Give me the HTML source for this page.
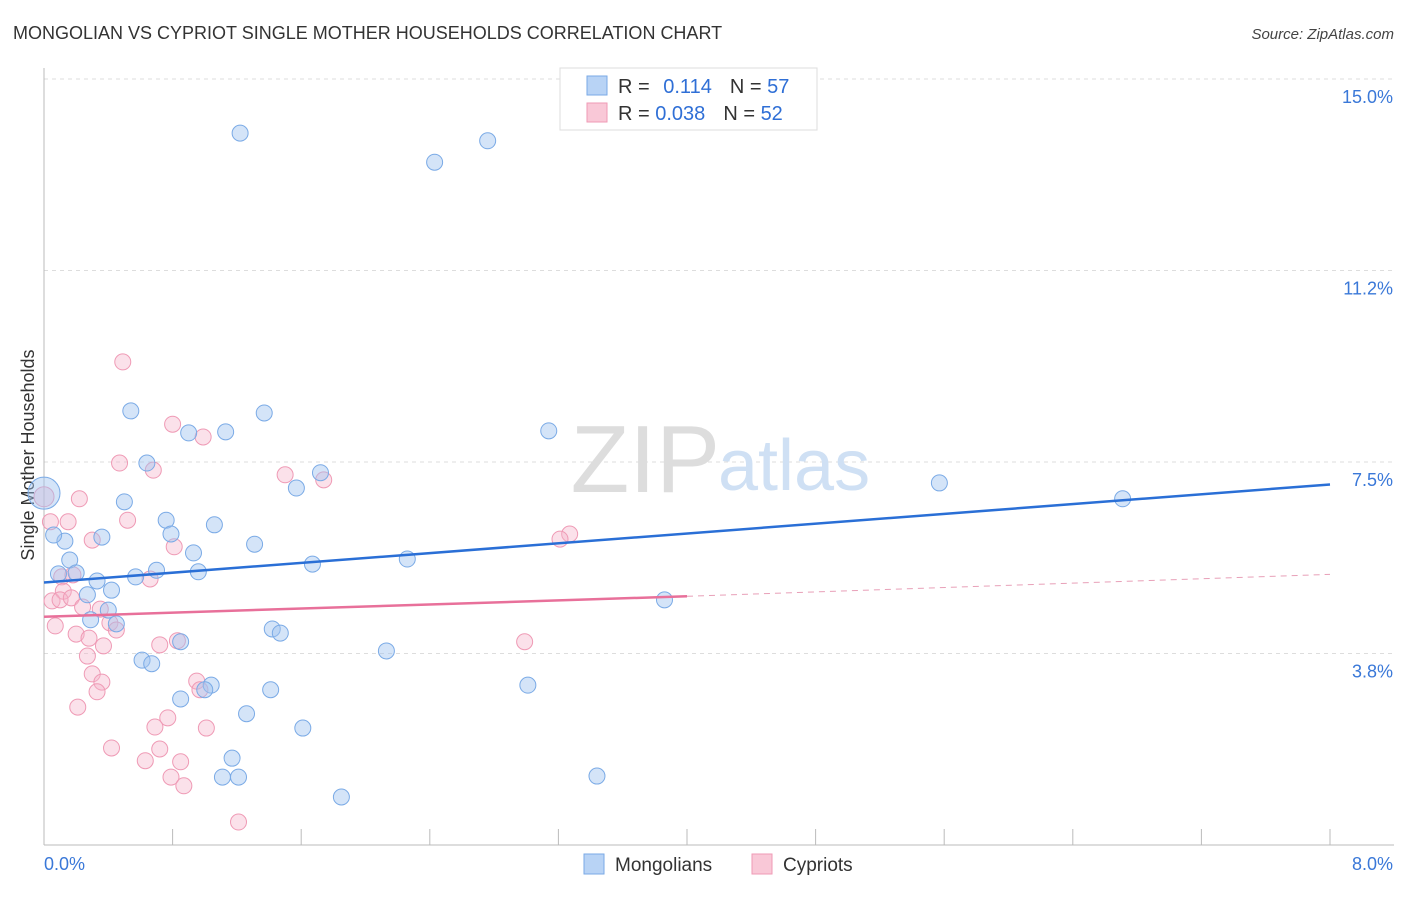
<!DOCTYPE html>
<html><head><meta charset="utf-8"><style>
body{margin:0;background:#fff;font-family:"Liberation Sans",sans-serif}
svg text{font-family:"Liberation Sans",sans-serif}
</style></head><body>
<svg id="chart" width="1406" height="892" xmlns="http://www.w3.org/2000/svg">
<text x="13" y="39" font-size="18" fill="#333">MONGOLIAN VS CYPRIOT SINGLE MOTHER HOUSEHOLDS CORRELATION CHART</text>
<text x="1394" y="39" font-size="15" fill="#444" font-style="italic" text-anchor="end">Source: ZipAtlas.com</text>
<g id="grid"></g>
<g id="axes"></g>
<text x="720" y="492" font-size="96" fill="#ddd" font-family="Liberation Serif" text-anchor="end">ZIP</text>
<text x="718" y="490" font-size="72" fill="#cfe0f4">atlas</text>
<text transform="translate(34,455) rotate(-90)" font-size="18" fill="#333" text-anchor="middle">Single Mother Households</text>
<g id="marks"></g>
<g>
<rect x="560" y="68" width="257" height="62" fill="#fff" stroke="#ddd"/>
<rect x="587" y="76" width="20" height="19" fill="#b8d3f5" stroke="#7aaae6"/>
<rect x="587" y="103" width="20" height="19" fill="#f9c8d7" stroke="#ef9ab5"/>
<text x="618" y="93" font-size="20" fill="#333">R = <tspan fill="#2f6fd6" dx="8">0.114</tspan><tspan dx="18" fill="#333">N = </tspan><tspan fill="#2f6fd6">57</tspan></text>
<text x="618" y="120" font-size="20" fill="#333">R = <tspan fill="#2f6fd6">0.038</tspan><tspan dx="18" fill="#333">N = </tspan><tspan fill="#2f6fd6">52</tspan></text>
</g>
<g>
<rect x="584" y="854" width="20" height="20" fill="#b8d3f5" stroke="#7aaae6"/>
<text x="615" y="871" font-size="19" fill="#333">Mongolians</text>
<rect x="752" y="854" width="20" height="20" fill="#f9c8d7" stroke="#ef9ab5"/>
<text x="783" y="871" font-size="19" fill="#333">Cypriots</text>
</g>
</svg>
<script>
const yTicks=[15.0,11.25,7.5,3.75];
const yTickLabels=["15.0%","11.2%","7.5%","3.8%"];
const xTickCount=10;
const mongX=[1.22,2.43,2.76,0.54,1.37,0.90,1.13,3.14,0.64,1.72,1.57,5.57,6.71,0,0.50,0.76,1.06,0.79,0.36,0.13,0.06,1.31,0.93,0.16,1.67,2.26,0.70,0.96,0.09,0.20,0.57,0.33,0.42,0.27,3.86,0.40,0.29,0.45,1.42,1.47,0.85,2.13,0.61,0.67,1.04,1.00,1.41,3.01,0.85,1.26,1.61,1.17,1.11,1.21,3.44,1.85];
const mongY=[13.94,13.37,13.79,8.50,8.46,8.07,8.09,8.11,7.48,7.29,6.99,7.09,6.78,6.89,6.72,6.36,6.27,6.09,6.03,5.95,6.07,5.89,5.72,5.58,5.50,5.60,5.38,5.35,5.31,5.33,5.25,5.17,4.99,4.90,4.80,4.60,4.41,4.33,4.23,4.15,3.98,3.80,3.62,3.55,3.13,3.04,3.04,3.13,2.86,2.57,2.29,1.70,1.33,1.33,1.35,0.94];
const cypX=[0.49,0.80,0.99,0.47,0.68,1.50,1.74,0.22,0,0.04,0.15,0.52,0.30,0.81,3.27,3.21,0.11,0.18,0.66,0.12,0.05,0.10,0.17,0.24,0.35,0.41,0.45,0.07,0.20,0.28,0.83,0.72,0.37,2.99,0.27,0.30,0.36,0.33,0.95,0.97,0.21,0.77,0.69,1.01,0.42,0.72,0.63,0.85,0.79,0.87,1.21];
const cypY=[9.46,8.24,7.99,7.48,7.34,7.25,7.15,6.78,6.82,6.33,6.33,6.36,5.97,5.84,6.09,5.99,5.25,5.29,5.21,4.97,4.78,4.80,4.84,4.66,4.62,4.35,4.21,4.29,4.13,4.05,4.00,3.92,3.90,3.98,3.70,3.35,3.19,3.00,3.21,3.04,2.70,2.49,2.31,2.29,1.90,1.88,1.65,1.63,1.33,1.16,0.45];
const mongTrend=[5.14,7.06];
const cypTrend=[4.47,4.87,5.30];
const NS="http://www.w3.org/2000/svg";
const X0=44,X1=1330,XMAX=8,Y0=845,YTOP=79,YMAXV=15;
const xs=v=>X0+v/XMAX*(X1-X0);
const ys=v=>Y0-v/YMAXV*(Y0-YTOP);
function mk(tag,attrs,parent){const e=document.createElementNS(NS,tag);for(const k in attrs)e.setAttribute(k,attrs[k]);parent.appendChild(e);return e;}
const grid=document.getElementById('grid'),axes=document.getElementById('axes'),marks=document.getElementById('marks');
yTicks.forEach((t,i)=>{
 const l=mk('line',{x1:X0,x2:1394,y1:ys(t),y2:ys(t),stroke:'#ddd','stroke-dasharray':'4,4'},grid);
 
 
 const tx=mk('text',{x:1393,y:ys(t)+24,'font-size':18,fill:'#3a78d8','text-anchor':'end'},axes);
 tx.textContent=yTickLabels[i];
 
 
});
const ax=mk('line',{x1:X0,x2:1394,y1:Y0,y2:Y0,stroke:'#bbb'},axes);


const ay=mk('line',{x1:X0,x2:X0,y1:68,y2:Y0,stroke:'#bbb'},axes);


for(let i=1;i<=xTickCount;i++){
 const t=mk('line',{x1:xs(i*XMAX/xTickCount),x2:xs(i*XMAX/xTickCount),y1:829,y2:Y0,stroke:'#bbb'},axes);
 
 
}
const xl0=mk('text',{x:44,y:870,'font-size':18,fill:'#3a78d8'},axes);xl0.textContent='0.0%';


const xl1=mk('text',{x:1393,y:870,'font-size':18,fill:'#3a78d8','text-anchor':'end'},axes);xl1.textContent='8.0%';


function pts(X,Y,fill,stroke,name){
 X.forEach((x,i)=>{
  const r=(x===0)?(name==='mongolian-point'?16:10):8;
  const c=mk('circle',{cx:xs(x),cy:ys(Y[i]),r:r,fill:fill,stroke:stroke,'stroke-width':1},marks);
  
  
 });
}
pts(cypX,cypY,'rgba(246,180,202,0.4)','#ef9ab5','cypriot-point');
pts(mongX,mongY,'rgba(160,196,240,0.45)','#7aaae6','mongolian-point');
const bl=mk('line',{x1:xs(0),y1:ys(mongTrend[0]),x2:xs(8),y2:ys(mongTrend[1]),stroke:'#2a6fd6','stroke-width':2.5},marks);


const pl=mk('line',{x1:xs(0),y1:ys(cypTrend[0]),x2:xs(4),y2:ys(cypTrend[1]),stroke:'#e8709a','stroke-width':2.5},marks);


const pd=mk('line',{x1:xs(4),y1:ys(cypTrend[1]),x2:xs(8),y2:ys(cypTrend[2]),stroke:'#e8a0b8','stroke-width':1,'stroke-dasharray':'6,5'},marks);


</script>
</body></html>
